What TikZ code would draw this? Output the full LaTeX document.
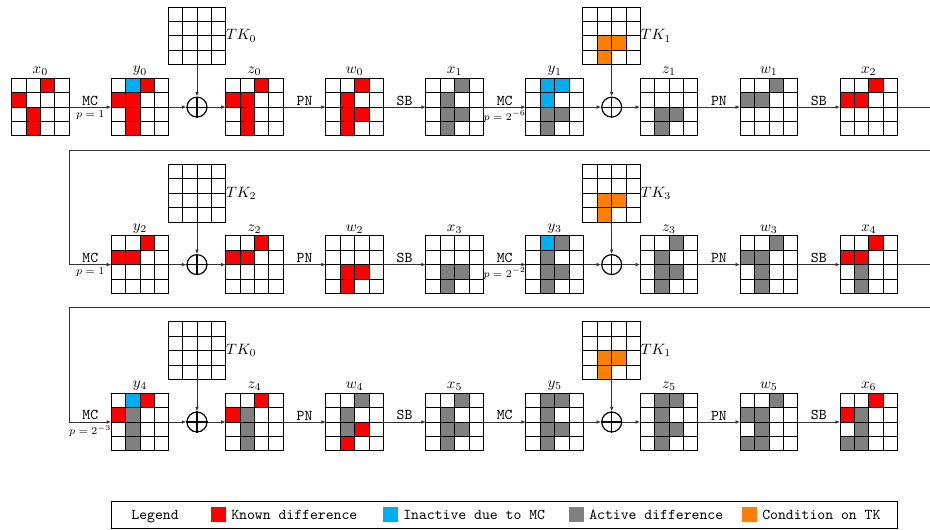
\documentclass[tikz,border=0pt]{standalone}
\usetikzlibrary{arrows.meta}
\definecolor{kred}{RGB}{255,0,0}
\definecolor{kblue}{RGB}{0,174,239}
\definecolor{kgray}{RGB}{128,128,128}
\definecolor{korange}{RGB}{255,128,0}
\tikzset{
  cellline/.style={draw=black, line width=0.5pt},
  gridbox/.style={draw=black, line width=0.6pt, minimum width=38.4pt, minimum height=38.4pt, inner sep=0pt, outer sep=0pt},
  glab/.style={anchor=south, inner sep=1.5pt},
  tklab/.style={anchor=west, inner sep=0pt},
  conn/.style={draw=black!80, line width=0.5pt, -{Latex[length=3pt,width=2.4pt]}},
  plainline/.style={draw=black!80, line width=0.5pt},
  oplab/.style={font=\ttfamily, anchor=south, inner sep=1pt},
  plab/.style={font=\scriptsize, anchor=north, inner sep=1pt, yshift=-1pt},
  oplus/.style={circle, draw=black, line width=0.8pt, minimum size=13.3pt, inner sep=0pt},
  legbox/.style={draw=black, line width=0.6pt, minimum width=524pt, minimum height=18pt, inner sep=0pt},
  legtxt/.style={font=\ttfamily, inner sep=0pt},
  legsq/.style={minimum width=10pt, minimum height=10pt, inner sep=0pt},
}
\newcommand\cellgrid[5]{% name, left, top, cells, label
  \foreach \rr/\cc/\cl in {#4}{
    \fill[\cl] ({#2+\cc*14.4},{#3+\rr*14.4}) rectangle ++(14.4,14.4);
  }
  \foreach \kk in {1,2,3}{
    \draw[cellline] ({#2+\kk*14.4},#3) -- ++(0,57.6);
    \draw[cellline] (#2,{#3+\kk*14.4}) -- ++(57.6,0);
  }
  \node[gridbox] (#1) at ({#2+28.8},{#3+28.8}) {};
  \node[glab] (l#1) at (#1.north) {#5};
}
\newcommand\xorat[3]{% name, x, y
  \node[oplus] (#1) at (#2,#3) {};
  \draw[line width=0.8pt] (#1.north) -- (#1.south) (#1.west) -- (#1.east);
}
\begin{document}
\begin{tikzpicture}[x=0.6667pt, y=-0.6667pt]
\useasboundingbox (0,0) rectangle (930,529);
% ---------------- Row 1 ----------------
\cellgrid{x0}{11.6}{78.3}{0/2/kred,1/0/kred,2/1/kred,3/1/kred}{$x_0$}
\cellgrid{y0}{111.2}{78.3}{0/1/kblue,0/2/kred,1/0/kred,1/1/kred,2/1/kred,3/1/kred}{$y_0$}
\cellgrid{tk0}{168.2}{7}{0/0/white}{}
\node[tklab] (ltk0a) at (tk0.east) {$TK_0$};
\xorat{o1}{197}{107.1}
\cellgrid{z0}{225.6}{78.3}{0/2/kred,1/0/kred,1/1/kred,2/1/kred,3/1/kred}{$z_0$}
\cellgrid{w0}{325.8}{78.3}{0/2/kred,1/1/kred,2/1/kred,2/2/kred,3/1/kred}{$w_0$}
\cellgrid{x1}{425.8}{78.3}{0/2/kgray,1/1/kgray,2/1/kgray,2/2/kgray,3/1/kgray}{$x_1$}
\cellgrid{y1}{525.9}{78.3}{0/1/kblue,0/2/kblue,1/1/kblue,2/1/kgray,2/2/kgray,3/1/kgray}{$y_1$}
\cellgrid{tk1}{582.9}{7}{2/1/korange,2/2/korange,3/1/korange}{}
\node[tklab] (ltk1a) at (tk1.east) {$TK_1$};
\xorat{o2}{611.7}{107.1}
\cellgrid{z1}{640.1}{78.3}{2/1/kgray,2/2/kgray,3/1/kgray}{$z_1$}
\cellgrid{w1}{740.1}{78.3}{0/2/kgray,1/0/kgray,1/1/kgray}{$w_1$}
\cellgrid{x2}{840}{78.3}{0/2/kred,1/0/kred,1/1/kred}{$x_2$}
\coordinate (e1) at (930,107.1);
\draw[conn] (x0) -- node[oplab] (mc0) {MC} node[plab] (p0) {$p=1$} (y0);
\draw[conn] (y0) -- (o1);
\draw[conn] (tk0) -- (o1);
\draw[conn] (o1) -- (z0);
\draw[conn] (z0) -- node[oplab] (pn0) {PN} (w0);
\draw[conn] (w0) -- node[oplab] (sb0) {SB} (x1);
\draw[conn] (x1) -- node[oplab] (mc1) {MC} node[plab] (p1) {$p=2^{-6}$} (y1);
\draw[conn] (y1) -- (o2);
\draw[conn] (tk1) -- (o2);
\draw[conn] (o2) -- (z1);
\draw[conn] (z1) -- node[oplab] (pn1) {PN} (w1);
\draw[conn] (w1) -- node[oplab] (sb1) {SB} (x2);
\draw[plainline] (x2) -- (e1);
% ---------------- Row 2 ----------------
\cellgrid{y2}{111.2}{235.8}{0/2/kred,1/0/kred,1/1/kred}{$y_2$}
\cellgrid{tk2}{168.2}{164.4}{0/0/white}{}
\node[tklab] (ltk2) at (tk2.east) {$TK_2$};
\xorat{o3}{197}{264.6}
\cellgrid{z2}{225.6}{235.8}{0/2/kred,1/0/kred,1/1/kred}{$z_2$}
\cellgrid{w2}{325.8}{235.8}{2/1/kred,2/2/kred,3/1/kred}{$w_2$}
\cellgrid{x3}{425.8}{235.8}{2/1/kgray,2/2/kgray,3/1/kgray}{$x_3$}
\cellgrid{y3}{525.9}{235.8}{0/1/kblue,0/2/kgray,1/1/kgray,2/1/kgray,2/2/kgray,3/1/kgray}{$y_3$}
\cellgrid{tk3}{582.9}{164.4}{2/1/korange,2/2/korange,3/1/korange}{}
\node[tklab] (ltk3) at (tk3.east) {$TK_3$};
\xorat{o4}{611.7}{264.6}
\cellgrid{z3}{640.1}{235.8}{0/2/kgray,1/1/kgray,2/1/kgray,2/2/kgray,3/1/kgray}{$z_3$}
\cellgrid{w3}{740.1}{235.8}{0/2/kgray,1/0/kgray,1/1/kgray,2/1/kgray,3/1/kgray}{$w_3$}
\cellgrid{x4}{840}{235.8}{0/2/kred,1/0/kred,1/1/kred,2/1/kgray,3/1/kgray}{$x_4$}
\coordinate (r1a) at (930,150);
\coordinate (r1b) at (69.3,150);
\coordinate (c2) at (r1b |- y2);
\coordinate (e2) at (930,264.6);
\draw[conn] (r1a) -- (r1b) -- (c2) -- node[oplab] (mc2) {MC} node[plab] (p2) {$p=1$} (y2);
\draw[conn] (y2) -- (o3);
\draw[conn] (tk2) -- (o3);
\draw[conn] (o3) -- (z2);
\draw[conn] (z2) -- node[oplab] (pn2) {PN} (w2);
\draw[conn] (w2) -- node[oplab] (sb2) {SB} (x3);
\draw[conn] (x3) -- node[oplab] (mc3) {MC} node[plab] (p3) {$p=2^{-2}$} (y3);
\draw[conn] (y3) -- (o4);
\draw[conn] (tk3) -- (o4);
\draw[conn] (o4) -- (z3);
\draw[conn] (z3) -- node[oplab] (pn3) {PN} (w3);
\draw[conn] (w3) -- node[oplab] (sb3) {SB} (x4);
\draw[plainline] (x4) -- (e2);
% ---------------- Row 3 ----------------
\cellgrid{y4}{111.2}{393.2}{0/1/kblue,0/2/kred,1/0/kred,1/1/kgray,2/1/kgray,3/1/kgray}{$y_4$}
\cellgrid{tk4}{168.2}{321.8}{0/0/white}{}
\node[tklab] (ltk4) at (tk4.east) {$TK_0$};
\xorat{o5}{197}{422}
\cellgrid{z4}{225.6}{393.2}{0/2/kred,1/0/kred,1/1/kgray,2/1/kgray,3/1/kgray}{$z_4$}
\cellgrid{w4}{325.8}{393.2}{0/2/kgray,1/1/kgray,2/1/kgray,2/2/kred,3/1/kred}{$w_4$}
\cellgrid{x5}{425.8}{393.2}{0/2/kgray,1/1/kgray,2/1/kgray,2/2/kgray,3/1/kgray}{$x_5$}
\cellgrid{y5}{525.9}{393.2}{0/1/kgray,0/2/kgray,1/1/kgray,2/1/kgray,2/2/kgray,3/1/kgray}{$y_5$}
\cellgrid{tk5}{582.9}{321.8}{2/1/korange,2/2/korange,3/1/korange}{}
\node[tklab] (ltk5) at (tk5.east) {$TK_1$};
\xorat{o6}{611.7}{422}
\cellgrid{z5}{640.1}{393.2}{0/1/kgray,0/2/kgray,1/1/kgray,2/1/kgray,2/2/kgray,3/1/kgray}{$z_5$}
\cellgrid{w5}{740.1}{393.2}{0/2/kgray,1/0/kgray,1/1/kgray,2/1/kgray,3/0/kgray,3/1/kgray}{$w_5$}
\cellgrid{x6}{840}{393.2}{0/2/kred,1/0/kred,1/1/kgray,2/1/kgray,3/0/kgray,3/1/kgray}{$x_6$}
\coordinate (r2a) at (930,307);
\coordinate (r2b) at (69.3,307);
\coordinate (c3) at (r2b |- y4);
\draw[conn] (r2a) -- (r2b) -- (c3) -- node[oplab] (mc4) {MC} node[plab] (p4) {$p=2^{-3}$} (y4);
\draw[conn] (y4) -- (o5);
\draw[conn] (tk4) -- (o5);
\draw[conn] (o5) -- (z4);
\draw[conn] (z4) -- node[oplab] (pn4) {PN} (w4);
\draw[conn] (w4) -- node[oplab] (sb4) {SB} (x5);
\draw[conn] (x5) -- node[oplab] (mc5) {MC} (y5);
\draw[conn] (y5) -- (o6);
\draw[conn] (tk5) -- (o6);
\draw[conn] (o6) -- (z5);
\draw[conn] (z5) -- node[oplab] (pn5) {PN} (w5);
\draw[conn] (w5) -- node[oplab] (sb5) {SB} (x6);
% ---------------- Legend ----------------
\node[legbox] (leg) at (504,514.5) {};
\node[legtxt, anchor=base] (legt) at (155,519) {Legend};
\node[legsq, fill=kred] (sqr) at (218.5,514.5) {};
\node[legtxt, anchor=base west] (txr) at (231,519) {Known difference};
\node[legsq, fill=kblue] (sqb) at (390.5,514.5) {};
\node[legtxt, anchor=base west] (txb) at (403,519) {Inactive due to MC};
\node[legsq, fill=kgray] (sqg) at (576.5,514.5) {};
\node[legtxt, anchor=base west] (txg) at (589,519) {Active difference};
\node[legsq, fill=korange] (sqo) at (749.5,514.5) {};
\node[legtxt, anchor=base west] (txo) at (762,519) {Condition on TK};
\end{tikzpicture}
\end{document}
